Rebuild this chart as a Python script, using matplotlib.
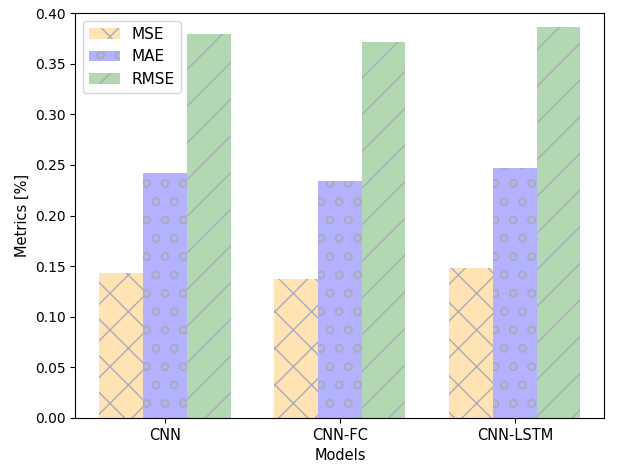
import numpy as np
import matplotlib
matplotlib.use('Agg')
import matplotlib.pyplot as plt

models = ['CNN', 'CNN-FC', 'CNN-LSTM']
mse = [0.143, 0.137, 0.148]
mae = [0.242, 0.234, 0.247]
rmse = [0.379, 0.371, 0.386]

# hatch tiles follow the dpi; shrink the point sizes so the text stays put
DPI = 110
s = 100 / DPI
plt.rcParams.update({
    'font.size': 10.5 * s,
    'ytick.labelsize': 10 * s,
    'legend.fontsize': 11 * s,
    'axes.linewidth': 0.8 * s,
    'xtick.major.size': 3.5 * s,
    'ytick.major.size': 3.5 * s,
    'xtick.major.width': 0.8 * s,
    'ytick.major.width': 0.8 * s,
    'xtick.major.pad': 3.5 * s,
    'ytick.major.pad': 3.5 * s,
    'axes.labelpad': 4.0 * s,
    'hatch.linewidth': 1.0 * s,
    'patch.linewidth': 1.0 * s,
})

fig, ax = plt.subplots(figsize=(618 / DPI, 468 / DPI), dpi=DPI)
fig.subplots_adjust(left=0.122, right=0.978, top=0.972, bottom=0.107)

x = np.arange(len(models))
w = 0.25
hatch_col = '#aaaabb'
ax.bar(x - w, mse, w, color=(1, 0.647, 0, 0.3), edgecolor=hatch_col,
       linewidth=0, hatch='x', label='MSE')
ax.bar(x, mae, w, color=(0, 0, 1, 0.3), edgecolor=hatch_col,
       linewidth=0, hatch='o', label='MAE')
ax.bar(x + w, rmse, w, color=(0, 0.5, 0, 0.3), edgecolor=hatch_col,
       linewidth=0, hatch='/', label='RMSE')

ax.set_xticks(x)
ax.set_xticklabels(models)
ax.set_ylim(0, 0.4)
ax.set_yticks(np.arange(0, 0.41, 0.05))
ax.set_xlabel('Models')
ax.set_ylabel('Metrics [%]')
ax.legend(loc='upper left')

fig.savefig('out.png', dpi=DPI)
